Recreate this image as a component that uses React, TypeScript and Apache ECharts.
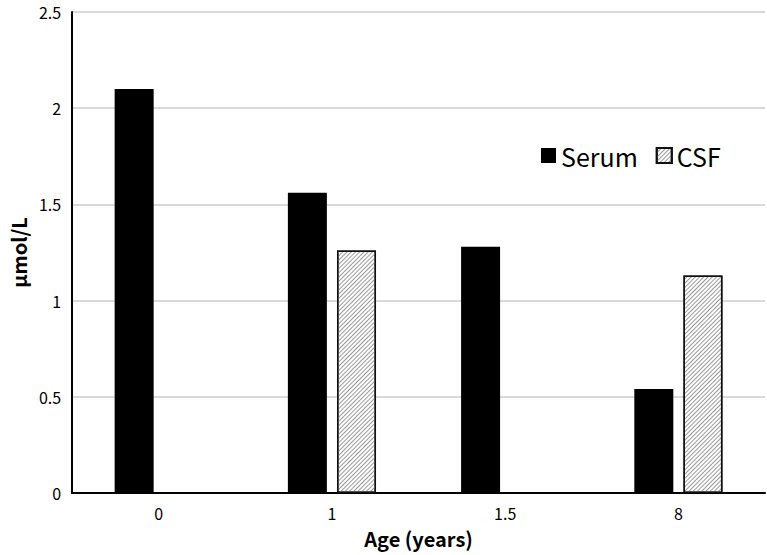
import React, { useEffect, useRef } from "react";
import * as echarts from "echarts";

const categories = ["0", "1", "1.5", "8"];
const serumValues: (number | null)[] = [2.1, 1.56, 1.28, 0.54];
const csfValues: (number | null)[] = [null, 1.26, null, 1.13];
const yTicks = [0, 0.5, 1, 1.5, 2, 2.5];

const FONT = '"Noto Sans CJK JP", "Noto Sans", sans-serif';

export default function App() {
  const ref = useRef<HTMLDivElement>(null);
  useEffect(() => {
    if (!ref.current) return;
    document.body.style.margin = "0";
    const chart = echarts.init(ref.current, null, { renderer: "svg" });
    chart.setOption({
      animation: false,
      backgroundColor: "#fff",
      textStyle: { fontFamily: FONT },
      grid: { left: 71, right: 2, top: 12, bottom: 62, containLabel: false },
      legend: {
        left: 536,
        top: 138,
        itemWidth: 15,
        itemHeight: 15,
        itemGap: 18,
        icon: "rect",
        textStyle: { fontSize: 25, color: "#000", fontFamily: FONT },
        data: ["Serum", "CSF"],
      },
      xAxis: {
        type: "category",
        data: categories,
        name: "Age (years)",
        nameLocation: "middle",
        nameGap: 35,
        nameTextStyle: { fontSize: 20, fontWeight: "bold", color: "#000", fontFamily: FONT },
        axisLine: { lineStyle: { color: "#000", width: 2 } },
        axisTick: { show: false },
        axisLabel: { fontSize: 16, color: "#000", margin: 12, fontFamily: FONT },
      },
      yAxis: {
        type: "value",
        min: yTicks[0],
        max: yTicks[yTicks.length - 1],
        interval: 0.5,
        name: "μmol/L",
        nameLocation: "middle",
        nameGap: 42,
        nameTextStyle: { fontSize: 20, fontWeight: "bold", color: "#000", fontFamily: FONT },
        axisLine: { show: true, lineStyle: { color: "#000", width: 2 } },
        axisTick: { show: false },
        axisLabel: { fontSize: 16, lineHeight: 16, color: "#000", margin: 11, fontFamily: FONT },
        splitLine: { lineStyle: { color: "#d9d9d9", width: 2 } },
      },
      series: [
        {
          name: "Serum",
          type: "bar",
          data: serumValues,
          barWidth: 39,
          barGap: "26%",
          itemStyle: { color: "#000" },
        },
        {
          name: "CSF",
          type: "bar",
          data: csfValues,
          barWidth: 39,
          itemStyle: {
            color: "#fff",
            borderColor: "#111",
            borderWidth: 1.5,
            decal: {
              symbol: "rect",
              symbolSize: 1,
              color: "#9a9a9a",
              backgroundColor: "#f6f6f6",
              dashArrayX: [1, 0],
              dashArrayY: [1, 1.6],
              rotation: -Math.PI / 4,
            },
          },
        },
      ],
    });
    return () => chart.dispose();
  }, []);
  return <div ref={ref} style={{ width: 767, height: 555 }} />;
}
